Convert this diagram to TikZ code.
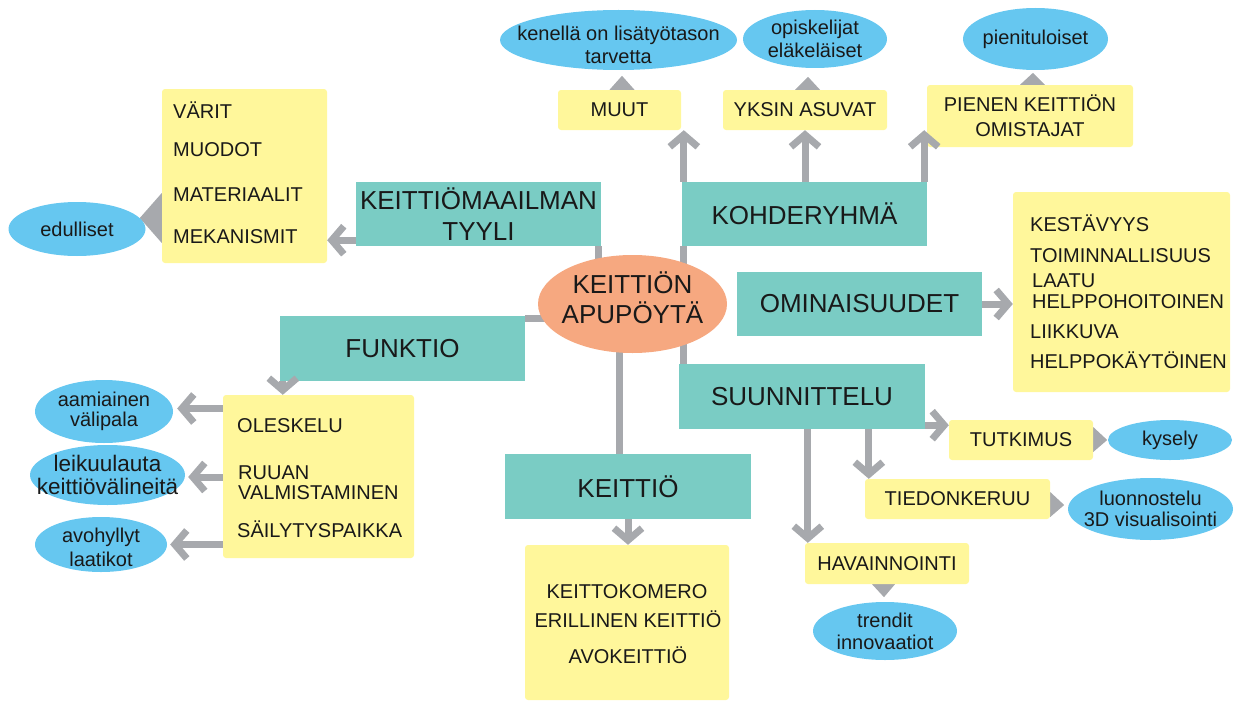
\documentclass[tikz,border=0pt]{standalone}
\usepackage{fontspec}
\setmainfont{Liberation Sans}
\usetikzlibrary{arrows.meta,calc,shapes.geometric}
\pgfdeclarelayer{bg}
\pgfsetlayers{bg,main}
\definecolor{tealc}{RGB}{122,204,196}
\definecolor{yelc}{RGB}{255,247,155}
\definecolor{bluec}{RGB}{102,199,240}
\definecolor{orac}{RGB}{246,168,128}
\definecolor{grayc}{RGB}{167,169,173}
\definecolor{txtc}{RGB}{25,25,25}
\begin{document}
\begin{tikzpicture}[x=1pt,y=-1pt,
  every node/.style={text=txtc},
  tealbox/.style={fill=tealc, inner sep=0pt, align=center, font=\fontsize{26}{31}\selectfont},
  yelbox/.style={fill=yelc, rounded corners=3pt, inner sep=0pt, align=center, font=\fontsize{20}{25}\selectfont},
  blueell/.style={ellipse, fill=bluec, inner sep=0pt},
  btxt/.style={align=center, inner sep=0pt, font=\fontsize{20}{23}\selectfont},
  ctxt/.style={align=center, inner sep=0pt, font=\fontsize{26}{30}\selectfont},
  listtxt/.style={anchor=base west, inner sep=0pt, font=\fontsize{20}{24}\selectfont},
  ctrtxt/.style={anchor=base, inner sep=0pt, font=\fontsize{20}{24}\selectfont},
  conn/.style={draw=grayc, line width=7pt},
  arr/.style={conn, -{Straight Barb[length=12pt,width=28pt]}},
  tri/.style={fill=grayc},
]
\useasboundingbox (0,0) rectangle (1234,701);

% centre
\node[ellipse, fill=orac, inner sep=0pt, minimum width=189pt, minimum height=98pt,
  label={[ctxt,yshift=6pt]center:KEITTIÖN\\APUPÖYTÄ}] (cen) at (632.5,304) {};

% teal boxes
\node[tealbox, minimum width=245pt, minimum height=64pt] (kmt) at (478.5,214) {KEITTIÖMAAILMAN\\TYYLI};
\node[tealbox, minimum width=245pt, minimum height=64pt] (koh) at (804.5,214) {KOHDERYHMÄ};
\node[tealbox, minimum width=245pt, minimum height=64pt] (omin) at (859.5,304) {OMINAISUUDET};
\node[tealbox, minimum width=246pt, minimum height=65pt] (suun) at (802,396.5) {SUUNNITTELU};
\node[tealbox, minimum width=245pt, minimum height=65pt] (fun) at (402.5,348.5) {FUNKTIO};
\node[tealbox, minimum width=246pt, minimum height=65pt] (kei) at (628,486.5) {KEITTIÖ};

% yellow boxes
\node[yelbox, minimum width=165pt, minimum height=174pt] (lstyle) at (244.5,176) {};
\node[listtxt] (ls1) at (173,118) {VÄRIT};
\node[listtxt] (ls2) at (173,156) {MUODOT};
\node[listtxt] (ls3) at (173,201) {MATERIAALIT};
\node[listtxt] (ls4) at (173,243) {MEKANISMIT};

\node[yelbox, minimum width=123pt, minimum height=40pt] (muut) at (619.5,110) {MUUT};
\node[yelbox, minimum width=164pt, minimum height=40pt] (yksin) at (805,110) {YKSIN ASUVAT};
\node[yelbox, minimum width=206pt, minimum height=62pt] (pienen) at (1030,116) {PIENEN KEITTIÖN\\OMISTAJAT};

\node[yelbox, minimum width=217pt, minimum height=200pt] (olist) at (1121.5,292) {};
\node[listtxt] (ol1) at (1030,231) {KESTÄVYYS};
\node[listtxt] (ol2) at (1030,262) {TOIMINNALLISUUS};
\node[listtxt] (ol3) at (1032,287) {LAATU};
\node[listtxt] (ol4) at (1032,308) {HELPPOHOITOINEN};
\node[listtxt] (ol5) at (1030,338) {LIIKKUVA};
\node[listtxt] (ol6) at (1030,368) {HELPPOKÄYTÖINEN};

\node[yelbox, minimum width=191pt, minimum height=163pt] (flist) at (318.5,476.5) {};
\node[listtxt] (fl1) at (237,432) {OLESKELU};
\node[listtxt] (fl2) at (238,479) {RUUAN};
\node[listtxt] (fl3) at (238,499) {VALMISTAMINEN};
\node[listtxt] (fl4) at (237,537) {SÄILYTYSPAIKKA};

\node[yelbox, minimum width=204pt, minimum height=155pt] (klist) at (627,622.5) {};
\node[ctrtxt] (kl1) at (627,598) {KEITTOKOMERO};
\node[ctrtxt] (kl2) at (628,627) {ERILLINEN KEITTIÖ};
\node[ctrtxt] (kl3) at (628,663) {AVOKEITTIÖ};

\node[yelbox, minimum width=144pt, minimum height=40pt] (tut) at (1021,440) {TUTKIMUS};
\node[yelbox, minimum width=185pt, minimum height=40pt] (tied) at (957.5,499) {TIEDONKERUU};
\node[yelbox, minimum width=164pt, minimum height=41pt] (hav) at (887,563.5) {HAVAINNOINTI};

% blue ellipses
\node[blueell, minimum width=137pt, minimum height=54pt, label={[btxt]center:edulliset}] (edul) at (77,229) {};
\node[blueell, minimum width=237pt, minimum height=60pt, label={[btxt,yshift=-5pt]center:kenellä on lisätyötason\\tarvetta}] (ken) at (618.5,40) {};
\node[blueell, minimum width=144pt, minimum height=58pt, label={[btxt]center:opiskelijat\\eläkeläiset}] (opis) at (815,39) {};
\node[blueell, minimum width=145pt, minimum height=62pt, label={[btxt]center:pienituloiset}] (pien) at (1035.5,39) {};
\node[blueell, minimum width=138pt, minimum height=63pt, label={[btxt,font=\fontsize{20}{20}\selectfont]center:aamiainen\\välipala}] (aam) at (104,411.5) {};
\node[blueell, minimum width=155pt, minimum height=60pt, label={[btxt,font=\fontsize{22.5}{23}\selectfont]center:leikuulauta\\keittiövälineitä}] (leik) at (107.5,475) {};
\node[blueell, minimum width=132pt, minimum height=55pt, label={[btxt,yshift=-3pt,font=\fontsize{20}{24}\selectfont]center:avohyllyt\\laatikot}] (avo) at (101,544.5) {};
\node[blueell, minimum width=124pt, minimum height=40pt, label={[btxt]center:kysely}] (kys) at (1170,440) {};
\node[blueell, minimum width=165pt, minimum height=62pt, label={[btxt,font=\fontsize{20}{21}\selectfont]center:luonnostelu\\3D visualisointi}] (luon) at (1150.5,509) {};
\node[blueell, minimum width=144pt, minimum height=58pt, label={[btxt,font=\fontsize{20}{22}\selectfont]center:trendit\\innovaatiot}] (tren) at (885,631) {};

\begin{pgfonlayer}{bg}
  % plain links from the centre
  \coordinate (c1) at ($(kmt.south east)+(-3,0)$);
  \draw[conn] (c1) -- (c1 |- cen.center);
  \coordinate (kx) at ($(koh.south west)+(2,0)$);
  \draw[conn] (kx) -- (kx |- suun.north);
  \coordinate (f2) at ($(fun.north east)+(0,3)$);
  \draw[conn] (f2) -- (f2 -| cen.center);
  \coordinate (kc) at ($(cen.center)+(-13.5,0)$);
  \draw[conn] (kc) -- (kc |- kei.north);
  % filled triangles
  \fill[tri] ($(lstyle.west)+(0,17)$) -- ($(lstyle.west)+(0,67)$) -- ($(lstyle.west)+(-22,42)$) -- cycle;
  \fill[tri] ($(muut.north)+(-10,0)$) -- ($(muut.north)+(15,0)$) -- ($(muut.north)+(2.5,-14)$) -- cycle;
  \fill[tri] ($(yksin.north)+(-10,0)$) -- ($(yksin.north)+(15,0)$) -- ($(yksin.north)+(3,-13)$) -- cycle;
  \fill[tri] ($(pienen.north)+(-10,0)$) -- ($(pienen.north)+(15,0)$) -- ($(pienen.north)+(3,-12)$) -- cycle;
  \fill[tri] ($(tut.east)+(0,-13)$) -- ($(tut.east)+(0,12)$) -- ($(tut.east)+(14,0)$) -- cycle;
  \fill[tri] ($(tied.east)+(0,-7)$) -- ($(tied.east)+(0,18)$) -- ($(tied.east)+(14,6)$) -- cycle;
  \fill[tri] ($(hav.south)+(-15,0)$) -- ($(hav.south)+(8,0)$) -- ($(hav.south)+(-3,13)$) -- cycle;
\end{pgfonlayer}

% arrows
\coordinate (a1) at ($(kmt.south west)+(0,-6)$);
\draw[arr] (a1) -- (a1 -| lstyle.east);
\coordinate (k1) at ($(koh.north west)+(2,0)$);
\draw[arr] (k1) -- (k1 |- muut.south);
\draw[arr] (koh.north -| yksin.south) -- (yksin.south);
\coordinate (k3) at ($(koh.north east)+(-3,0)$);
\draw[arr] (k3) -- (k3 |- muut.south);
\draw[arr] (omin.east) -- (omin.east -| olist.west);
\coordinate (f1) at ($(fun.south west)+(3,0)$);
\draw[arr] (f1) -- (f1 |- flist.north);
\coordinate (b1) at ($(aam.east)+(4,-3)$);
\draw[arr] (b1 -| flist.west) -- (b1);
\coordinate (b2) at ($(leik.east)+(3,2)$);
\draw[arr] (b2 -| flist.west) -- (b2);
\coordinate (b3) at ($(avo.east)+(3,0)$);
\draw[arr] (b3 -| flist.west) -- (b3);
\draw[arr] (kei.south) -- (kei.south |- klist.north);
\coordinate (s1) at ($(suun.south east)+(0,-4)$);
\draw[arr] (s1) -- (s1 -| tut.west);
\coordinate (s2) at ($(suun.south west)+(190,0)$);
\draw[arr] (s2) -- (s2 |- tied.north);
\coordinate (s3) at ($(suun.south west)+(129,0)$);
\draw[arr] (s3) -- (s3 |- hav.north);
\end{tikzpicture}
\end{document}
